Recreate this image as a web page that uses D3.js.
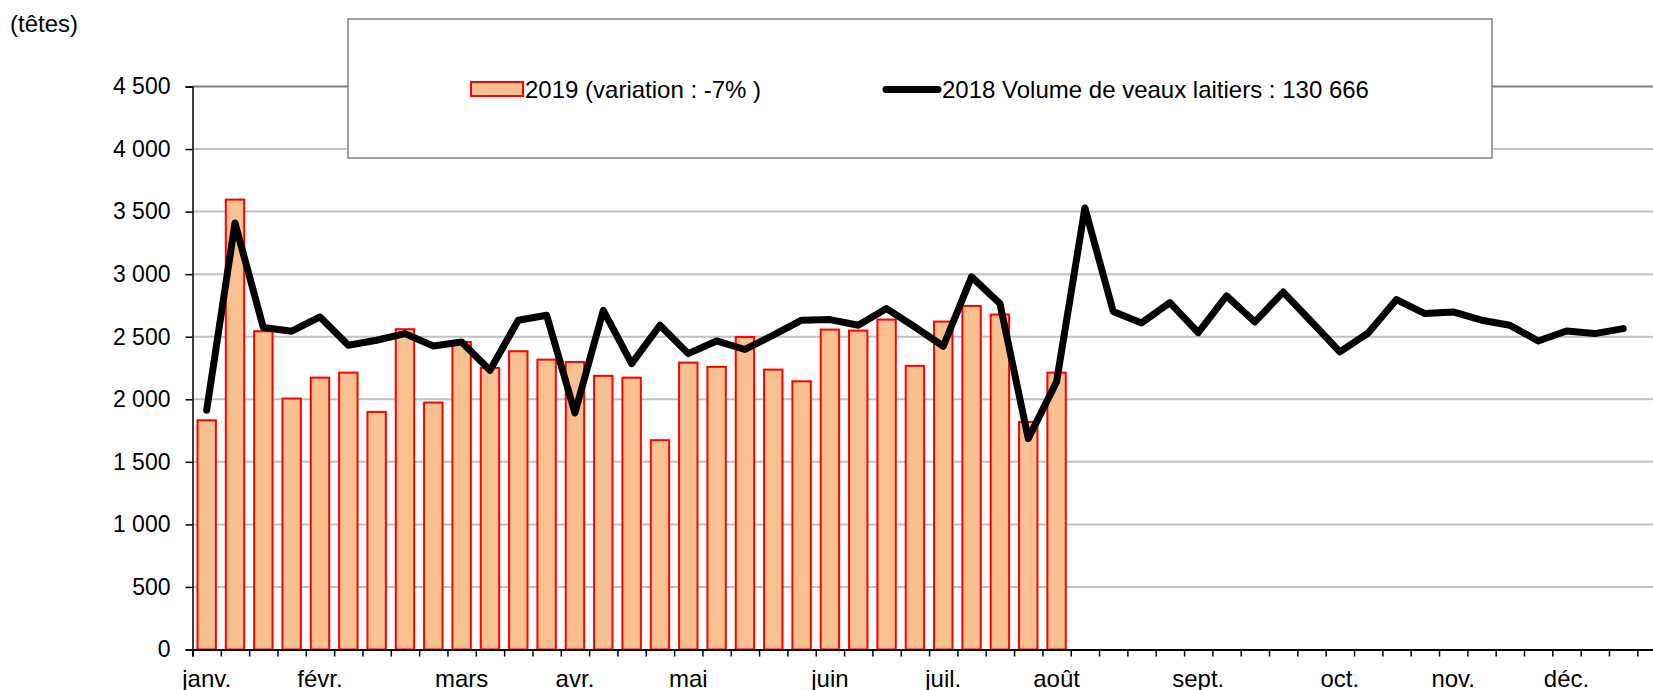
<!DOCTYPE html>
<html>
<head>
<meta charset="utf-8">
<script src="https://cdn.jsdelivr.net/npm/d3@7"></script>
<style>
  html, body { margin: 0; padding: 0; background: #fff; }
  svg { display: block; font-family: "Liberation Sans", Arial, sans-serif; }
</style>
</head>
<body>
<svg id="chart" width="1653" height="690"></svg>
<script>
// ---- data ----
const weeks = d3.range(1, 53);                       // 52 weekly categories
const months = ["janv.", "févr.", "mars", "avr.", "mai", "juin", "juil.", "août", "sept.", "oct.", "nov.", "déc."];
const monthWeekIndex = [0, 4, 9, 13, 17, 22, 26, 30, 35, 40, 44, 48];
const yTicks = [0, 500, 1000, 1500, 2000, 2500, 3000, 3500, 4000, 4500];
const values2019 = [1832, 3596, 2544, 2006, 2173, 2213, 1899, 2560, 1974, 2458,
  2251, 2384, 2317, 2298, 2187, 2173, 1673, 2293, 2259, 2498,
  2237, 2144, 2557, 2549, 2637, 2267, 2621, 2746, 2677, 1819, 2213];
const values2018 = [1912, 3409, 2573, 2544, 2658, 2432, 2472, 2525, 2426, 2458,
  2232, 2632, 2672, 1891, 2711, 2285, 2592, 2365, 2466, 2398,
  2512, 2632, 2637, 2592, 2725, 2578, 2424, 2978, 2765, 1686,
  2139, 3529, 2702, 2610, 2773, 2533, 2826, 2618, 2857, 2620,
  2379, 2530, 2797, 2685, 2698, 2632, 2592, 2466, 2546, 2525, 2565];
const label2019 = "2019 (variation : -7% )";
const label2018 = "2018 Volume de veaux laitiers : 130 666";
const unitLabel = "(têtes)";

// ---- layout ----
const svg = d3.select("#chart");
const left = 192.5, step = 28.33;
const right = left + weeks.length * step;
const yTop = 86.5, yBottom = 649.5;
const FONT = 24, TICKFONT = 23;

const x = d3.scaleBand().domain(weeks).range([left, right]).paddingInner(0.35).paddingOuter(0.175);
const xLin = d3.scaleLinear().domain([0, weeks.length]).range([left, right]);
const y = d3.scaleLinear().domain([0, 4500]).range([yBottom, yTop]);

svg.append("rect").attr("width", 1653).attr("height", 690).attr("fill", "#fff");

// unit label
svg.append("text").attr("x", 10).attr("y", 32).attr("font-size", FONT).attr("fill", "#000").text(unitLabel);

// gridlines
svg.append("g").selectAll("line").data(yTicks.filter(d => d > 0)).join("line")
  .attr("x1", left).attr("x2", 1653)
  .attr("y1", d => y(d)).attr("y2", d => y(d))
  .attr("stroke", d => d === 4500 ? "#808080" : "#c0c0c0")
  .attr("stroke-width", 2);

// bars 2019
svg.append("g").selectAll("rect").data(values2019).join("rect")
  .attr("x", (d, i) => x(weeks[i]))
  .attr("y", d => y(d))
  .attr("width", x.bandwidth())
  .attr("height", d => yBottom - y(d))
  .attr("fill", "#FAC090")
  .attr("stroke", "#FF0000")
  .attr("stroke-width", 2);

// line 2018
const line = d3.line().x((d, i) => x(weeks[i]) + x.bandwidth() / 2).y(d => y(d));
svg.append("path").datum(values2018)
  .attr("d", line)
  .attr("fill", "none")
  .attr("stroke", "#000")
  .attr("stroke-width", 7)
  .attr("stroke-linejoin", "round")
  .attr("stroke-linecap", "round");

// y axis
const yAxis = svg.append("g").attr("transform", `translate(${left},0)`)
  .call(d3.axisLeft(y).tickValues(yTicks).tickSize(7).tickPadding(15)
    .tickFormat(d => d3.format(",")(d).replace(/,/g, " ")));
yAxis.select(".domain").attr("stroke", "#000").attr("stroke-width", 1.5);
yAxis.selectAll(".tick line").attr("stroke", "#000").attr("stroke-width", 1.5);
yAxis.selectAll("text").attr("font-size", TICKFONT).attr("font-family", "Liberation Sans, Arial, sans-serif").attr("fill", "#000");

// x axis tick marks at band boundaries
const xAxis = svg.append("g").attr("transform", `translate(0,${yBottom})`)
  .call(d3.axisBottom(xLin).tickValues(d3.range(0, weeks.length + 1)).tickSize(7).tickFormat(""));
xAxis.select(".domain").attr("stroke", "#000").attr("stroke-width", 2);
xAxis.selectAll(".tick line").attr("stroke", "#000").attr("stroke-width", 1.5);

// month labels
const monthMap = new Map(monthWeekIndex.map((w, i) => [weeks[w], months[i]]));
const xLab = svg.append("g").attr("transform", `translate(0,${yBottom})`)
  .call(d3.axisBottom(x).tickValues(monthWeekIndex.map(i => weeks[i])).tickSize(0)
    .tickFormat(d => monthMap.get(d)));
xLab.select(".domain").remove();
xLab.selectAll("text").attr("font-size", FONT).attr("font-family", "Liberation Sans, Arial, sans-serif")
  .attr("fill", "#000").attr("y", 37).attr("dy", 0);

// legend box
const lg = svg.append("g");
lg.append("rect").attr("x", 348).attr("y", 19).attr("width", 1144).attr("height", 139)
  .attr("fill", "#fff").attr("stroke", "#808080").attr("stroke-width", 1.5);
lg.append("rect").attr("x", 471).attr("y", 82).attr("width", 52).attr("height", 14)
  .attr("fill", "#FAC090").attr("stroke", "#FF0000").attr("stroke-width", 2);
lg.append("text").attr("x", 525).attr("y", 97.5).attr("font-size", FONT).attr("fill", "#000").text(label2019);
lg.append("line").attr("x1", 886).attr("x2", 938).attr("y1", 89.5).attr("y2", 89.5)
  .attr("stroke", "#000").attr("stroke-width", 7).attr("stroke-linecap", "round");
lg.append("text").attr("x", 942).attr("y", 97.5).attr("font-size", FONT).attr("fill", "#000").text(label2018);
</script>
</body>
</html>
